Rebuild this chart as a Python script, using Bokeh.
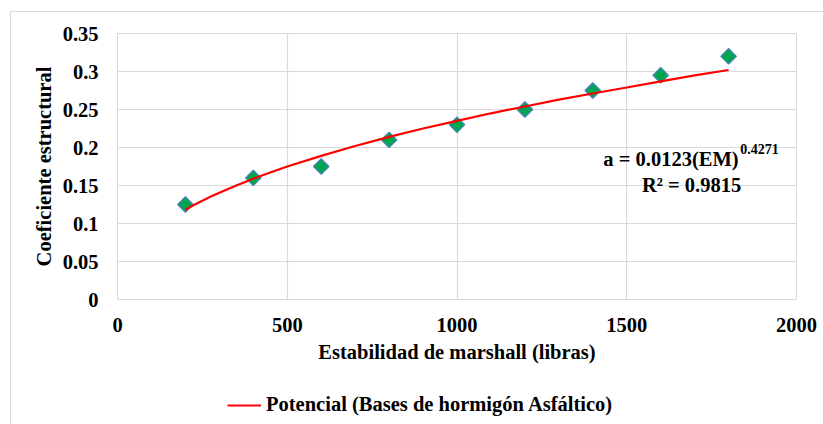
import numpy as np
from bokeh.plotting import figure
from bokeh.layouts import column
from bokeh.models import Label, Legend, LegendItem, FixedTicker, Range1d
from bokeh.embed import file_html
from bokeh.resources import INLINE

# Data
estabilidad = [200, 400, 600, 800, 1000, 1200, 1400, 1600, 1800]
coeficiente = [0.125, 0.16, 0.175, 0.21, 0.23, 0.25, 0.275, 0.295, 0.32]
# Power trendline (a = 0.0123 EM^0.4271)
trend_x = [200, 225, 250, 275, 300, 350, 400, 450, 500, 600, 700, 800, 900, 1000, 1100, 1200, 1300,
           1400, 1500, 1600, 1700, 1800]
trend_y = [0.118, 0.1243, 0.130, 0.1354, 0.1406, 0.150, 0.159, 0.167, 0.175, 0.189, 0.202, 0.214, 0.225,
           0.235, 0.245, 0.254, 0.263, 0.271, 0.279, 0.287, 0.295, 0.302]
x_ticks = [0, 500, 1000, 1500, 2000]
y_ticks = [0, 0.05, 0.1, 0.15, 0.2, 0.25, 0.3, 0.35]
y_tick_labels = {0: "0", 0.05: "0.05", 0.1: "0.1", 0.15: "0.15", 0.2: "0.2", 0.25: "0.25", 0.3: "0.3", 0.35: "0.35"}
legend_label = "Potencial (Bases de hormigón Asfáltico)"

FONT = "Liberation Serif"
FS = "20.5px"

p = figure(width=813, height=373, output_backend="svg", toolbar_location=None,
           x_range=Range1d(0, 2000), y_range=Range1d(0, 0.35),
           min_border_left=106, min_border_right=28, min_border_top=21, min_border_bottom=86)

p.outline_line_color = "#d9d9d9"
p.background_fill_color = "white"
p.border_fill_color = "white"

for ax in (p.xaxis[0], p.yaxis[0]):
    ax.axis_line_color = None
    ax.major_tick_line_color = None
    ax.minor_tick_line_color = None
    ax.major_label_text_font = FONT
    ax.major_label_text_font_style = "bold"
    ax.major_label_text_font_size = FS
    ax.major_label_text_color = "#000000"
    ax.axis_label_text_font = FONT
    ax.axis_label_text_font_style = "bold"
    ax.axis_label_text_font_size = FS
    ax.axis_label_text_color = "#000000"

p.xaxis.ticker = FixedTicker(ticks=x_ticks)
p.yaxis.ticker = FixedTicker(ticks=y_ticks)
p.yaxis.major_label_overrides = y_tick_labels
p.xaxis.axis_label = "Estabilidad de marshall (libras)"
p.yaxis.axis_label = "Coeficiente estructural"
p.xaxis.major_label_standoff = 12
p.xaxis.axis_label_standoff = 6
p.yaxis.major_label_standoff = 13
p.yaxis.axis_label_standoff = 5

p.xgrid.ticker = FixedTicker(ticks=x_ticks)
p.ygrid.ticker = FixedTicker(ticks=y_ticks)
p.xgrid.grid_line_color = "#d9d9d9"
p.ygrid.grid_line_color = "#d9d9d9"
p.xgrid.grid_line_width = 1.2
p.ygrid.grid_line_width = 1.2

# markers
p.scatter(estabilidad, coeficiente, marker="square", angle=np.pi / 4, size=11,
          fill_color="#00A550", line_color="#4F81BD", line_width=1.2)
p.line(trend_x, trend_y, line_color="#FF0000", line_width=2.2)

p.add_layout(Label(x=1431, y=0.1855, text="a = 0.0123(EM)", text_font=FONT, text_font_style="bold",
                   text_font_size=FS, text_baseline="middle", text_align="left", text_color="#000000"))
p.add_layout(Label(x=1834, y=0.1975, text="0.4271", text_font=FONT, text_font_style="bold",
                   text_font_size="14px", text_baseline="middle", text_align="left", text_color="#000000"))
p.add_layout(Label(x=1691, y=0.1513, text="R² = 0.9815", text_font=FONT, text_font_style="bold",
                   text_font_size=FS, text_baseline="middle", text_align="center", text_color="#000000"))

# Legend strip
lf = figure(width=813, height=40, output_backend="svg", toolbar_location=None,
            x_range=Range1d(0, 1), y_range=Range1d(0, 1),
            min_border_left=0, min_border_right=0, min_border_top=0, min_border_bottom=0)
lf.axis.visible = False
lf.grid.visible = False
lf.outline_line_color = None
lf.background_fill_color = "white"
lf.border_fill_color = "white"
trend_key = lf.line(x=[-5, -4], y=[-5, -5], line_color="#FF0000", line_width=2.2)
legend = Legend(items=[LegendItem(label=legend_label, renderers=[trend_key])],
                orientation="horizontal", location=(110, 9),
                label_text_font=FONT, label_text_font_style="bold", label_text_font_size=FS,
                label_text_color="#000000", glyph_width=34, label_standoff=5,
                border_line_color=None, background_fill_alpha=0, padding=0, margin=0)
lf.add_layout(legend, "center")

layout = column(p, lf, spacing=0)
layout.margin = (11, 0, 0, 10)
layout.styles = {"border-left": "1px solid #d9d9d9", "border-top": "1px solid #d9d9d9"}

open("out.html", "w").write(file_html(layout, INLINE))
